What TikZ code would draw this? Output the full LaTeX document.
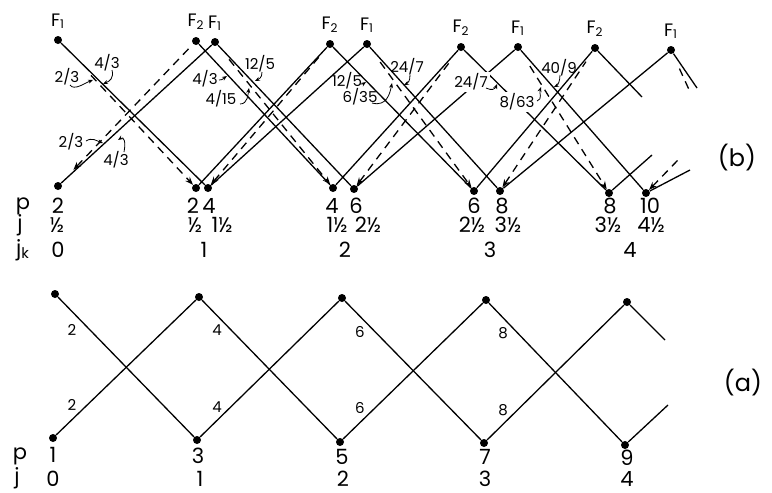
\documentclass[tikz,border=0pt]{standalone}
\usepackage{fontspec}
\setmainfont{Poppins}
\usetikzlibrary{arrows.meta}

\begin{document}
\begin{tikzpicture}[x=0.5pt, y=-0.5pt,
        dot/.style={circle, fill, inner sep=0pt, minimum size=4pt},
        lnk/.style={line width=0.65pt},
        dsh/.style={line width=0.65pt, dash pattern=on 4pt off 3pt},
        dtip/.style={-{Stealth[length=4pt, width=3pt]}},
        utip/.style={{Stealth[length=4pt, width=3pt]}-},
        flab/.style={font=\fontsize{9}{9}\selectfont, label distance=0pt},
        rowlab/.style={font=\fontsize{10.5}{10}\selectfont, inner sep=0pt},
        fraclab/.style={font=\fontsize{7.5}{7}\selectfont, inner sep=1pt},
        wt/.style={font=\fontsize{7.5}{7}\selectfont, inner sep=0pt},
        ptr/.style={line width=0.4pt, -{Stealth[length=2.5pt, width=2pt]}}]
        \useasboundingbox (0,0) rectangle (772,493);
        % (b)
        \foreach \n/\x/\y/\f in {t0/58/40/1, t1a/196/41/2, t1b/215/42/1, t2a/330/44/2, t2b/367/44/1,
                                 t3a/461/47/2, t3b/518/47/1, t4a/595/48/2, t4b/671/50/1}
          \node[dot, label={[flab]above:F\textsubscript{\f}}] (\n) at (\x,\y) {};
        \foreach \n/\x/\y in {b0/58/186, b1a/196/188, b1b/208/188, b2a/333/188, b2b/354/189,
                              b3a/474/191, b3b/500/191, b4a/609/193, b4b/646/193}
          \node[dot] (\n) at (\x,\y) {};
        \coordinate (e1) at (642,97);  \coordinate (e2) at (697,88);  \coordinate (e3) at (691,94);
        \coordinate (e4) at (652,155); \coordinate (e5) at (690,170); \coordinate (e6) at (678,160);
        \foreach \a/\b in {t0/b1b, t1a/b2a, t1b/b2b, t2a/b3a, t2b/b3b, t3a/b4a, t3b/b4b, t4a/e1, t4b/e2,
                           b0/t1b, b1a/t2a, b1b/t2b, b2a/t3a, b2b/t3b, b3a/t4a, b3b/t4b, b4a/e4, b4b/e5}
          \draw[lnk] (\a) -- (\b);
        \draw[dsh, dtip, shorten <=22pt] (t0) -- (b1a);
        \foreach \a/\b in {t1b/b2a, t2b/b3a, t3b/b4a}
          \draw[dsh, dtip, shorten <=9pt] (\a) -- (\b);
        \draw[dsh, shorten <=8pt] (t4b) -- (e3);
        \draw[dsh, utip, shorten <=9pt, shorten >=2pt] (b0) -- (t1a);
        \foreach \a/\b in {b1b/t2a, b2b/t3a, b3b/t4a}
          \draw[dsh, utip, shorten >=6pt] (\a) -- (\b);
        \draw[dsh, utip] (b4b) -- (e6);
        \node[fraclab] (f1) at (107,63) {4/3};
        \node[fraclab] (f2) at (67,77) {2/3};
        \node[fraclab] (f3) at (71,142) {2/3};
        \node[fraclab] (f4) at (116,160) {4/3};
        \node[fraclab] (f5) at (205,79) {4/3};
        \node[fraclab] (f6) at (221,99) {4/15};
        \node[fraclab] (f7) at (260,64) {12/5};
        \node[fraclab] (f8) at (347,81) {12/5};
        \node[fraclab] (f9) at (360,97) {6/35};
        \node[fraclab] (f10) at (407,67) {24/7};
        \node[fraclab, fill=white] (f11) at (471,82) {24/7};
        \node[fraclab, fill=white] (f12) at (517,102) {8/63};
        \node[fraclab] (f13) at (559,68) {40/9};
        \coordinate (g1) at (103,84);  \coordinate (g2) at (93,80);   \coordinate (g3) at (103,143);
        \coordinate (g4) at (118,140); \coordinate (g5) at (227,76);  \coordinate (g6) at (249,88);
        \coordinate (g7) at (255,81);  \coordinate (g8) at (366,82);  \coordinate (g9) at (392,83);
        \coordinate (g10) at (404,85); \coordinate (g11) at (497,84); \coordinate (g12) at (541,87);
        \coordinate (g13) at (554,87);
        \draw[ptr] (112,70) .. controls +(2,8) and +(7,-3) .. (g1);
        \draw[ptr] (70,85) .. controls +(4,6) and +(-8,3) .. (g2);
        \draw[ptr] (86,141) .. controls +(6,-4) and +(-6,-2) .. (g3);
        \draw[ptr] (124,152) .. controls +(2,-10) and +(6,-4) .. (g4);
        \draw[ptr] (219,80) .. controls +(4,0) and +(-3,2) .. (g5);
        \draw[ptr] (240,104) .. controls +(8,0) and +(-1,6) .. (g6);
        \draw[ptr] (262,72) .. controls +(0,6) and +(4,-2) .. (g7);
        \draw[ptr] (360,84) .. controls +(3,0) and +(-3,2) .. (g8);
        \draw[ptr] (372,103) .. controls +(15,4) and +(-2,10) .. (g9);
        \draw[ptr] (410,75) .. controls +(0,6) and +(4,-2) .. (g10);
        \draw[ptr] (486,88) .. controls +(6,3) and +(-2,5) .. (g11);
        \draw[ptr] (537,101) .. controls +(6,-2) and +(-2,6) .. (g12);
        \draw[ptr] (560,75) .. controls +(0,6) and +(4,-2) .. (g13);
        \node[rowlab] (pb) at (23,206) {p};
        \node[rowlab] (jb) at (20,225) {j};
        \node[rowlab] (jkb) at (23,250) {j\textsubscript{k}};
        \foreach \x/\t in {58/2, 193/2, 209/4, 332/4, 356/6, 474/6, 502/8, 610/8, 650/10}
          \node[rowlab] at (\x,206) {\t};
        \foreach \x/\t in {57/½, 195/½, 222/1½, 337/1½, 368/2½, 472/2½, 508/3½, 608/3½, 651/4½}
          \node[rowlab] at (\x,225) {\t};
        \foreach \x/\t in {58/0, 204/1, 345/2, 490/3, 630/4}
          \node[rowlab] at (\x,250) {\t};
        \node[font=\fontsize{12}{12}\selectfont] (lb) at (737,158) {(b)};
        % (a)
        \foreach \i/\x/\y/\u/\v in {0/55/294/53/438, 1/199/297/197/440, 2/342/298/340/442,
                                    3/486/300/484/443, 4/627/302/625/445}
          {\node[dot] (at\i) at (\x,\y) {};
           \node[dot] (ab\i) at (\u,\v) {};}
        \foreach \i/\j in {0/1, 1/2, 2/3, 3/4}
          {\draw[lnk] (at\i) -- (ab\j);
           \draw[lnk] (ab\i) -- (at\j);}
        \coordinate (ea) at (665,340); \coordinate (eb) at (668,405);
        \draw[lnk] (at4) -- (ea);
        \draw[lnk] (ab4) -- (eb);
        \foreach \x/\y/\z/\t in {72/330/405/2, 217/330/407/4, 360/332/408/6, 503/333/410/8}
          {\node[wt] at (\x,\y) {\t};
           \node[wt] at (\x,\z) {\t};}
        \node[rowlab] (pa) at (20,456) {p};
        \node[rowlab] (ja) at (17,478) {j};
        \foreach \x/\t/\y in {53/1/455, 198/3/456, 342/5/457, 485/7/457, 627/9/458}
          \node[rowlab] at (\x,\y) {\t};
        \foreach \x/\t in {53/0, 200/1, 343/2, 485/3, 627/4}
          \node[rowlab] at (\x,479) {\t};
        \node[font=\fontsize{12}{12}\selectfont] (la) at (743,383) {(a)};
      \end{tikzpicture}
\end{document}
